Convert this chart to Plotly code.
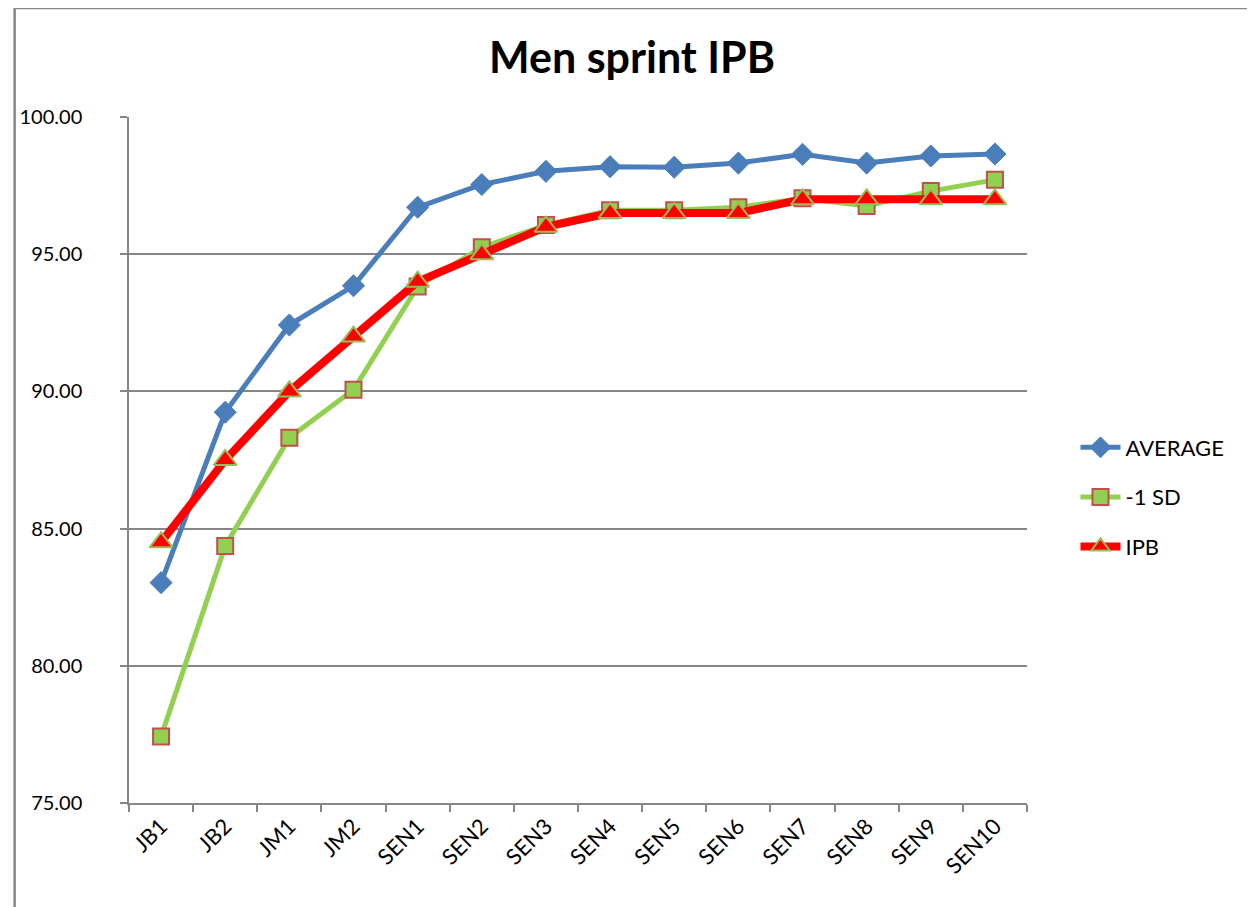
import plotly.graph_objects as go

categories = ["JB1", "JB2", "JM1", "JM2", "SEN1", "SEN2", "SEN3", "SEN4",
              "SEN5", "SEN6", "SEN7", "SEN8", "SEN9", "SEN10"]
average = [83.03, 89.24, 92.42, 93.85, 96.71, 97.54, 98.02, 98.19,
           98.17, 98.32, 98.64, 98.32, 98.58, 98.65]
minus_sd = [77.42, 84.37, 88.31, 90.06, 93.82, 95.25, 96.06, 96.60,
            96.60, 96.71, 97.04, 96.76, 97.30, 97.71]
ipb = [84.5, 87.5, 90.0, 92.0, 94.0, 95.0, 96.0, 96.5,
       96.5, 96.5, 97.0, 97.0, 97.0, 97.0]

FONT = "Lato"
W, H = 1247, 899  # page body margin of 8px shifts the figure
L, R, T, B = 116, 228, 109, 104

fig = go.Figure()
fig.add_trace(go.Scatter(
    x=categories, y=average, name="AVERAGE", mode="lines+markers",
    line=dict(color="#4A7EBB", width=5),
    marker=dict(symbol="diamond", size=17, color="#4A7EBB",
                line=dict(color="#4A7EBB", width=1)),
    legendgroup="a"))
fig.add_trace(go.Scatter(
    x=categories, y=minus_sd, name="-1 SD", mode="lines+markers",
    line=dict(color="#92D050", width=5),
    marker=dict(symbol="square", size=16, color="#92D050",
                line=dict(color="#C0504D", width=2)),
    legendgroup="b"))
fig.add_trace(go.Scatter(
    x=categories, y=ipb, name="IPB", mode="lines+markers",
    line=dict(color="#FF0000", width=8),
    marker=dict(symbol="triangle-up", size=20, color="#FF0000",
                line=dict(color="#9BBB59", width=2)),
    legendgroup="c"))

fig.update_layout(
    width=W, height=H,
    margin=dict(l=L, r=R, t=T, b=B),
    paper_bgcolor="white", plot_bgcolor="white",
    font=dict(family=FONT, color="black"),
    title=dict(text="<b>Men sprint IPB</b>", x=(624 / W), xanchor="center",
               y=1 - 50 / H, yanchor="middle",
               font=dict(size=43, family=FONT, color="black")),
    showlegend=True,
    legend=dict(x=1.054, xanchor="left", y=(795 - 489) / 686, yanchor="middle",
                font=dict(size=22, family=FONT, color="black"),
                traceorder="grouped", tracegroupgap=18,
                bgcolor="rgba(0,0,0,0)", itemwidth=40),
    xaxis=dict(type="category", showgrid=False, showline=True,
               linecolor="#868686", linewidth=1.5,
               ticks="outside", tickson="boundaries", ticklen=7,
               tickcolor="#868686", tickwidth=1.5,
               tickangle=-45, tickfont=dict(size=22, family=FONT, color="black"),
               range=[-0.5, len(categories) - 0.5]),
    yaxis=dict(range=[75, 100], dtick=5, tick0=75, tickformat=".2f",
               showgrid=True, gridcolor="#868686", gridwidth=1.5,
               showline=True, linecolor="#868686", linewidth=1.5,
               ticks="outside", ticklen=7, tickcolor="#868686", tickwidth=1.5,
               ticklabelstandoff=34,
               tickfont=dict(size=20, family=FONT, color="black"),
               zeroline=False),
)

# outer chart border
x0 = (1 - L) / 903
x1 = (W - 1 - L) / 903
y_top = (795 - 0) / 686
y_bot = (795 - H - 5) / 686
fig.add_shape(type="line", xref="paper", yref="paper", x0=x0, x1=x0, y0=y_bot, y1=y_top,
              line=dict(color="#888888", width=2.5))
fig.add_shape(type="line", xref="paper", yref="paper", x0=x0, x1=x1, y0=y_top, y1=y_top,
              line=dict(color="#888888", width=2.5))
fig.add_shape(type="line", xref="paper", yref="paper", x0=x1, x1=x1, y0=y_bot, y1=y_top,
              line=dict(color="#DDDDDD", width=1))

fig.write_html("out.html")
